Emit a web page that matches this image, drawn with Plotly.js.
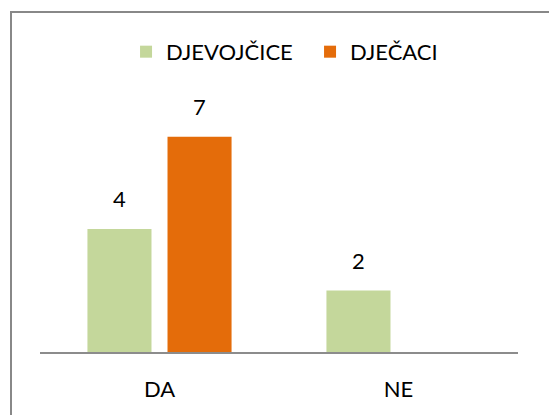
<!DOCTYPE html>
<html>
<head>
<meta charset="utf-8">
<script src="https://cdn.plot.ly/plotly-3.0.1.min.js"></script>
<style>
  html, body { margin: 0; padding: 0; background: #fff; }
  #wrap { position: relative; width: 549px; height: 415px; overflow: hidden; }
  #chart { width: 549px; height: 415px; }
  #frame { position: absolute; left: 10px; top: 11px; width: 600px; height: 500px;
           border-left: 2px solid #888; border-top: 2px solid #888; pointer-events: none; }
</style>
</head>
<body>
<div id="wrap">
  <div id="chart"></div>
  <div id="frame"></div>
</div>
<script>
const categories = ["DA", "NE"];
const seriesNames = ["DJEVOJČICE", "DJEČACI"];
const djevojcice = [4, 2];
const djecaci = [7, 0];
const seriesColors = ["#c4d79b", "#e46c0a"];

const FONT = "Lato, 'Liberation Sans', sans-serif";
const allSeries = [djevojcice, djecaci];

const traces = allSeries.map((vals, i) => ({
  type: "bar",
  name: seriesNames[i],
  x: categories,
  y: vals,
  marker: { color: seriesColors[i] },
  hoverinfo: "none"
}));

const annotations = [];
const shifts = [-40, 40];
allSeries.forEach((vals, i) => {
  vals.forEach((v, j) => {
    if (v > 0) {
      annotations.push({
        x: categories[j], y: v, xref: "x", yref: "y",
        text: String(v), showarrow: false,
        xshift: shifts[i], yshift: 15, yanchor: "bottom",
        font: { family: FONT, size: 22, color: "#000" }
      });
    }
  });
});

const layout = {
  width: 549, height: 415,
  margin: { l: 40, r: 31, t: 106, b: 63 },
  paper_bgcolor: "#fff", plot_bgcolor: "#fff",
  barmode: "group", bargap: 0.33, bargroupgap: 0.2,
  font: { family: FONT, size: 22, color: "#000" },
  showlegend: true,
  legend: {
    orientation: "h", x: 0.18, xanchor: "left", y: 1.22, yanchor: "middle",
    entrywidth: 139, entrywidthmode: "pixels",
    font: { family: FONT, size: 22, color: "#000" }
  },
  xaxis: {
    showline: true, linecolor: "#8c8c8c", linewidth: 2,
    ticks: "", showgrid: false, zeroline: false, ticklabelstandoff: 17,
    tickfont: { family: FONT, size: 22, color: "#000" }
  },
  yaxis: {
    range: [0, 8], showgrid: false, zeroline: false, showline: false,
    showticklabels: false, ticks: ""
  },
  annotations: annotations
};

Plotly.newPlot("chart", traces, layout, { displayModeBar: false, staticPlot: true });
</script>
</body>
</html>
